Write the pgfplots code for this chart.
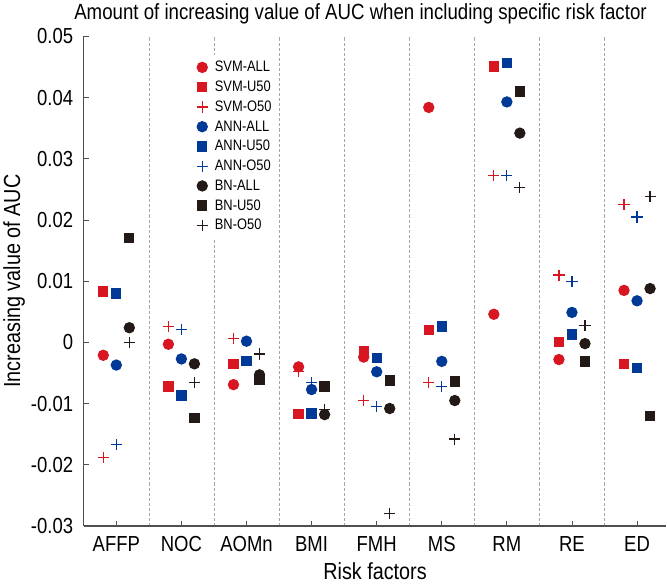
\documentclass[border=0pt]{standalone}
\usepackage{pgfplots}
\pgfplotsset{compat=1.18}
\usepackage{pgfplotstable}
\usepackage{fontspec}
\setmainfont{Liberation Sans}[FakeStretch=0.85]

\definecolor{cred}{RGB}{215,22,34}
\definecolor{cblue}{RGB}{0,58,150}
\definecolor{cblack}{RGB}{35,25,22}
\definecolor{axisgray}{RGB}{80,80,80}

% columns: category, then SVM/ANN/BN x ALL/U50/O50
\pgfplotstableread{
cat sa      su      so      aa      au      ao      ba      bu      bo
1   -0.0021  0.0083 -0.0188 -0.0037  0.0080 -0.0167  0.0024  0.0171  0.0000
2   -0.0003 -0.0072  0.0026 -0.0027 -0.0087  0.0021 -0.0035 -0.0124 -0.0066
3   -0.0069 -0.0035  0.0007  0.0002 -0.0030  0.0002 -0.0053 -0.0061 -0.0019
4   -0.0040 -0.0117 -0.0048 -0.0077 -0.0116 -0.0065 -0.0118 -0.0072 -0.0110
5   -0.0024 -0.0014 -0.0095 -0.0048 -0.0025 -0.0105 -0.0108 -0.0062 -0.0280
6    0.0384  0.0020 -0.0065 -0.0031  0.0026 -0.0072 -0.0095 -0.0064 -0.0158
7    0.0046  0.0451  0.0273  0.0393  0.0457  0.0273  0.0342  0.0410  0.0253
8   -0.0028  0.0001  0.0110  0.0049  0.0013  0.0099 -0.0002 -0.0031  0.0027
9    0.0085 -0.0035  0.0225  0.0068 -0.0042  0.0205  0.0088 -0.0120  0.0238
}\data

\begin{document}
\begin{tikzpicture}
\begin{axis}[
    scale only axis,
    width=576pt, height=484pt,
    xmin=0.5, xmax=9.45,
    ymin=-0.03, ymax=0.05,
    clip=false,
    axis lines=left,
    axis line style={-, axisgray, line width=1.3pt},
    tick style={axisgray, line width=0.9pt},
    tick align=inside,
    major tick length=5pt,
    xtick={1,...,9},
    xticklabels={AFFP,NOC,AOMn,BMI,FMH,MS,RM,RE,ED},
    minor xtick={1.5,2.5,...,8.5},
    minor tick length=0pt,
    xminorgrids=true,
    minor grid style={gray!70, densely dashed, line width=0.6pt},
    ytick={-0.03,-0.02,...,0.05},
    yticklabels={-0.03,-0.02,-0.01,0,0.01,0.02,0.03,0.04,0.05},
    scaled y ticks=false,
    /pgf/number format/assume math mode=true,
    ticklabel style={font=\fontsize{21.5}{23}\selectfont},
    xticklabel style={yshift=-7pt},
    yticklabel style={xshift=-7pt},
    xlabel={Risk factors},
    ylabel={Increasing value of AUC},
    label style={font=\fontsize{23}{25}\selectfont},
    xlabel style={yshift=-4pt},
    ylabel style={yshift=-1pt},
    legend style={at={(0.19,0.962)}, anchor=north west, draw=none, fill=white,
        font=\fontsize{15}{17}\selectfont, row sep=3.6pt,
        inner xsep=2pt, inner ysep=4pt,
        /tikz/every odd column/.append style={column sep=5pt}},
    legend cell align=left,
    every axis plot/.append style={only marks, mark options={line width=1.2pt}},
]
\addplot[cred, mark=*, mark size=5pt] table[x expr=\thisrow{cat}-0.2, y=sa]{\data};
\addplot[cred, mark=square*, mark size=4.5pt] table[x expr=\thisrow{cat}-0.2, y=su]{\data};
\addplot[cred, mark=+, mark size=5.5pt] table[x expr=\thisrow{cat}-0.2, y=so]{\data};
\addplot[cblue, mark=*, mark size=5pt] table[x=cat, y=aa]{\data};
\addplot[cblue, mark=square*, mark size=4.5pt] table[x=cat, y=au]{\data};
\addplot[cblue, mark=+, mark size=5.5pt] table[x=cat, y=ao]{\data};
\addplot[cblack, mark=*, mark size=5pt] table[x expr=\thisrow{cat}+0.2, y=ba]{\data};
\addplot[cblack, mark=square*, mark size=4.5pt] table[x expr=\thisrow{cat}+0.2, y=bu]{\data};
\addplot[cblack, mark=+, mark size=5.5pt] table[x expr=\thisrow{cat}+0.2, y=bo]{\data};
\legend{SVM-ALL,SVM-U50,SVM-O50,ANN-ALL,ANN-U50,ANN-O50,BN-ALL,BN-U50,BN-O50}
\node[anchor=base, font=\fontsize{21.7}{23}\selectfont] at (rel axis cs:0.475,1) [yshift=17pt]
    {Amount of increasing value of AUC when including specific risk factor};
\end{axis}
\end{tikzpicture}
\end{document}
